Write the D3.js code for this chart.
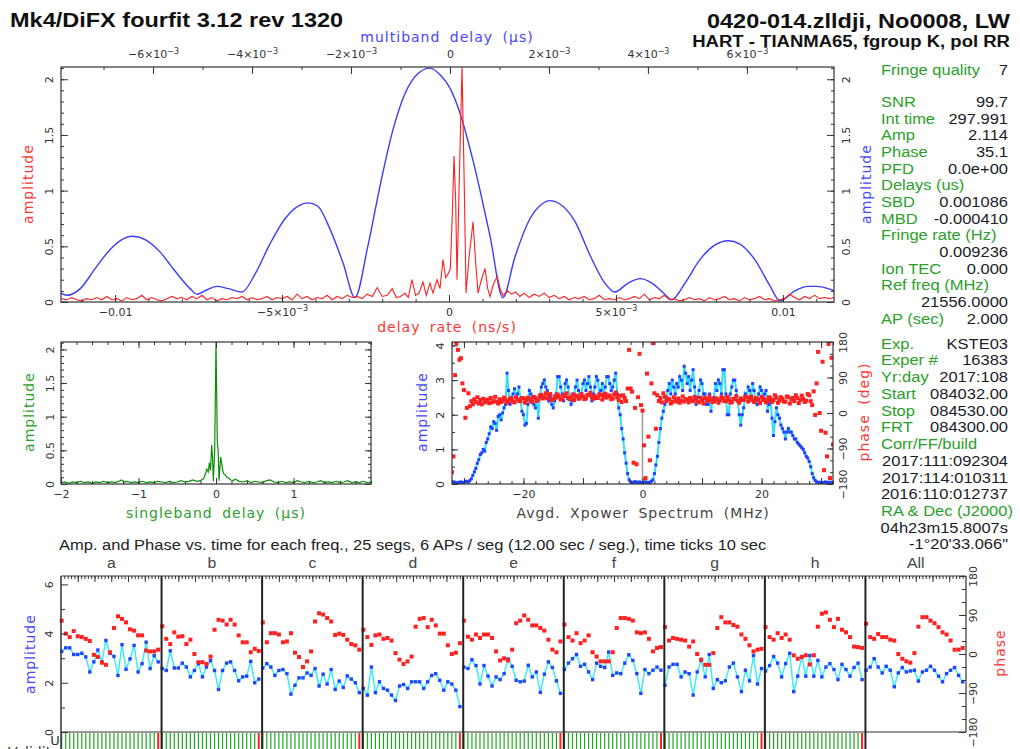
<!DOCTYPE html>
<html>
<head>
<meta charset="utf-8">
<title>fourfit fringe plot</title>
<script src="https://cdn.jsdelivr.net/npm/d3@7"></script>
<style>
  body { margin: 0; background: #fff; }
  svg { display: block; }
</style>
</head>
<body>
<svg id="fringe"></svg>
<script>
// ---------------- data ----------------

// multiband delay function: [delay (x1e-3 us), amplitude]
const mbdCurve = [
  [-7.86,0.08],[-7.74,0.06],[-7.47,0.12],[-7.17,0.30],[-6.87,0.47],[-6.63,0.56],[-6.42,0.59],
  [-6.16,0.56],[-5.86,0.45],[-5.56,0.28],[-5.25,0.12],[-5.11,0.07],[-4.91,0.11],[-4.71,0.14],
  [-4.48,0.12],[-4.20,0.09],[-3.94,0.25],[-3.64,0.52],[-3.33,0.75],[-3.03,0.87],[-2.87,0.89],
  [-2.67,0.86],[-2.42,0.65],[-2.16,0.35],[-1.92,0.04],[-1.66,0.50],[-1.41,1.05],[-1.15,1.55],
  [-0.91,1.87],[-0.65,2.05],[-0.40,2.10],[-0.20,2.04],[0.00,1.92],[0.20,1.70],[0.46,1.28],
  [0.81,0.59],[1.07,0.04],[1.31,0.40],[1.62,0.75],[1.86,0.88],[2.02,0.91],[2.22,0.88],
  [2.53,0.72],[2.83,0.42],[3.13,0.17],[3.33,0.09],[3.60,0.17],[3.84,0.21],[4.08,0.17],
  [4.34,0.07],[4.48,0.02],[4.75,0.17],[5.05,0.38],[5.35,0.51],[5.62,0.55],[5.86,0.52],
  [6.16,0.38],[6.46,0.15],[6.67,0.01],[6.97,0.10],[7.23,0.14],[7.41,0.14],[7.64,0.12],[7.76,0.10]
];

// delay rate function: [rate (x1e-3 ns/s), amplitude]
const rateCurve = [
  [-11.60,0.03],[-11.45,0.02],[-11.30,0.04],[-11.15,0.02],[-11.00,0.01],[-10.85,0.03],[-10.70,0.02],
  [-10.55,0.04],[-10.40,0.02],[-10.25,0.05],[-10.10,0.02],[-9.95,0.03],[-9.80,0.01],[-9.65,0.04],
  [-9.50,0.02],[-9.35,0.03],[-9.20,0.06],[-9.05,0.02],[-8.90,0.04],[-8.75,0.02],[-8.60,0.01],
  [-8.45,0.03],[-8.30,0.05],[-8.15,0.03],[-8.00,0.04],[-7.85,0.02],[-7.70,0.05],[-7.55,0.03],
  [-7.40,0.06],[-7.25,0.02],[-7.10,0.04],[-6.95,0.01],[-6.80,0.03],[-6.65,0.02],[-6.50,0.04],
  [-6.35,0.03],[-6.20,0.05],[-6.05,0.02],[-5.90,0.04],[-5.75,0.02],[-5.60,0.03],[-5.45,0.05],
  [-5.30,0.02],[-5.15,0.04],[-5.00,0.03],[-4.85,0.05],[-4.70,0.02],[-4.55,0.07],[-4.40,0.03],
  [-4.25,0.05],[-4.10,0.02],[-3.95,0.04],[-3.80,0.03],[-3.65,0.06],[-3.50,0.02],[-3.35,0.05],
  [-3.20,0.03],[-3.05,0.06],[-2.90,0.04],[-2.75,0.05],[-2.60,0.03],[-2.45,0.07],[-2.30,0.05],
  [-2.15,0.13],[-2.00,0.05],[-1.85,0.06],[-1.70,0.12],[-1.58,0.04],[-1.45,0.05],[-1.32,0.08],
  [-1.22,0.04],[-1.11,0.20],[-1.00,0.06],[-0.90,0.08],[-0.78,0.18],[-0.68,0.06],[-0.57,0.17],
  [-0.48,0.08],[-0.36,0.20],[-0.27,0.12],[-0.18,0.38],[-0.10,0.22],[-0.03,0.25],[0.04,0.30],
  [0.10,0.80],[0.15,1.31],[0.20,0.90],[0.24,0.20],[0.30,1.00],[0.39,2.11],[0.46,1.00],
  [0.51,0.08],[0.60,0.40],[0.72,0.72],[0.80,0.35],[0.87,0.08],[0.97,0.20],[1.08,0.30],
  [1.16,0.12],[1.23,0.05],[1.32,0.15],[1.44,0.23],[1.55,0.10],[1.62,0.06],[1.75,0.10],
  [1.87,0.07],[2.00,0.09],[2.12,0.05],[2.25,0.08],[2.40,0.04],[2.55,0.07],[2.70,0.05],
  [2.85,0.08],[3.00,0.04],[3.15,0.06],[3.30,0.03],[3.45,0.05],[3.60,0.02],[3.75,0.04],
  [3.90,0.03],[4.05,0.05],[4.20,0.02],[4.35,0.03],[4.50,0.06],[4.65,0.02],[4.80,0.03],
  [4.95,0.02],[5.10,0.04],[5.25,0.02],[5.40,0.03],[5.55,0.05],[5.70,0.03],[5.85,0.07],
  [6.00,0.02],[6.15,0.04],[6.30,0.03],[6.45,0.06],[6.60,0.02],[6.75,0.03],[6.90,0.01],
  [7.05,0.02],[7.20,0.04],[7.35,0.02],[7.50,0.03],[7.65,0.01],[7.80,0.04],[7.95,0.02],
  [8.10,0.03],[8.25,0.05],[8.40,0.02],[8.55,0.03],[8.70,0.01],[8.85,0.04],[9.00,0.02],
  [9.15,0.03],[9.30,0.05],[9.45,0.02],[9.60,0.03],[9.75,0.01],[9.90,0.02],[10.05,0.03],
  [10.20,0.07],[10.35,0.04],[10.50,0.02],[10.65,0.05],[10.80,0.03],[10.95,0.06],[11.10,0.03],
  [11.25,0.04],[11.40,0.03],[11.53,0.04]
];

// singleband delay function: [delay (us), amplitude]
const sbdCurve = [
  [-2.00,0.02],[-1.95,0.03],[-1.90,0.01],[-1.85,0.03],[-1.80,0.02],[-1.75,0.04],[-1.70,0.02],
  [-1.65,0.03],[-1.60,0.01],[-1.55,0.03],[-1.50,0.02],[-1.45,0.04],[-1.40,0.02],[-1.35,0.03],
  [-1.30,0.02],[-1.25,0.04],[-1.22,0.06],[-1.18,0.03],[-1.15,0.04],[-1.10,0.02],[-1.05,0.03],
  [-1.00,0.02],[-0.95,0.04],[-0.90,0.02],[-0.85,0.03],[-0.80,0.02],[-0.75,0.04],[-0.70,0.03],
  [-0.65,0.02],[-0.60,0.04],[-0.55,0.02],[-0.50,0.03],[-0.45,0.05],[-0.40,0.03],[-0.35,0.04],
  [-0.30,0.06],[-0.25,0.04],[-0.20,0.05],[-0.16,0.08],[-0.13,0.17],[-0.12,0.22],[-0.10,0.18],
  [-0.085,0.32],[-0.07,0.20],[-0.056,0.58],[-0.045,0.40],[-0.034,0.04],[-0.017,0.50],[0.00,2.11],
  [0.017,0.62],[0.028,0.50],[0.039,0.05],[0.06,0.40],[0.075,0.30],[0.086,0.20],[0.10,0.15],
  [0.116,0.14],[0.14,0.10],[0.16,0.09],[0.19,0.06],[0.22,0.05],[0.25,0.07],[0.30,0.04],
  [0.35,0.03],[0.40,0.05],[0.45,0.02],[0.50,0.04],[0.55,0.03],[0.60,0.02],[0.65,0.05],
  [0.70,0.06],[0.75,0.03],[0.80,0.02],[0.85,0.04],[0.90,0.02],[0.95,0.03],[1.00,0.02],
  [1.05,0.05],[1.10,0.03],[1.15,0.02],[1.20,0.04],[1.25,0.02],[1.30,0.03],[1.35,0.05],
  [1.40,0.02],[1.45,0.03],[1.50,0.02],[1.55,0.04],[1.60,0.02],[1.65,0.03],[1.70,0.05],
  [1.75,0.02],[1.80,0.03],[1.85,0.02],[1.90,0.04],[1.95,0.02],[2.00,0.03]
];

// averaged cross-power spectrum: one channel every 0.25 MHz from -32 to +32 MHz (8 per row = 2 MHz)
const specStart = -32, specStep = 0.25;
const specAmp = [
  0.04,0.06,0.05,0.03,0.03,0.05,0.06,0.04,
  0.04,0.08,0.07,0.05,0.10,0.15,0.25,0.35,
  0.45,0.60,0.70,0.85,0.90,1.00,0.95,1.20,
  1.30,1.45,1.65,1.60,1.80,1.75,1.55,1.95,
  2.00,1.85,2.05,2.20,2.30,3.20,2.70,2.30,
  2.50,2.60,2.75,2.50,2.60,2.80,2.40,2.10,
  2.00,1.70,1.75,2.30,2.70,2.60,2.50,2.30,
  2.20,2.40,1.90,2.50,2.80,2.90,3.00,2.80,
  2.70,2.40,2.50,2.30,2.20,2.40,2.60,3.10,
  3.10,2.80,2.60,2.40,2.90,3.00,2.80,2.50,
  2.30,2.40,2.60,2.80,3.00,2.70,2.50,2.60,
  2.90,3.00,2.70,2.90,3.10,2.80,2.40,2.60,
  2.80,3.10,3.00,2.60,2.70,2.90,2.60,2.80,
  3.10,3.10,2.90,2.70,2.80,3.00,3.20,2.60,
  2.20,2.00,1.60,1.30,0.90,0.60,0.30,0.12,
  0.06,0.05,0.04,0.07,0.05,0.03,0.06,0.04,
  0.04,0.05,0.06,0.03,0.05,0.04,0.08,0.12,
  0.30,0.55,0.80,1.20,1.60,1.90,2.10,2.30,
  2.50,2.70,2.90,2.60,3.00,2.80,2.60,2.90,
  2.80,3.10,3.00,2.70,3.40,3.20,2.90,3.10,
  2.70,3.00,3.30,2.80,2.30,2.50,2.70,3.00,
  2.90,2.60,2.60,2.30,2.30,2.60,2.10,2.40,
  2.50,2.90,2.70,3.00,2.90,2.60,3.30,3.30,
  2.60,2.00,2.00,2.60,2.80,3.00,3.00,2.70,
  2.40,2.00,1.70,2.00,2.20,2.60,2.50,2.80,
  2.70,2.50,2.90,2.70,2.40,2.30,2.60,2.80,
  2.70,2.50,2.60,2.70,2.10,2.30,2.40,1.90,
  1.40,1.80,2.20,2.00,1.90,1.70,1.60,1.50,
  1.30,1.50,1.60,1.50,1.50,1.40,1.30,1.30,
  1.20,1.15,1.10,1.05,1.00,0.90,0.80,0.75,
  0.65,0.50,0.30,0.18,0.10,0.06,0.05,0.04,
  0.05,0.03,0.04,0.06,0.03,0.05,0.04,0.05,
  0.05
];
const specPhase = [
  -150,-110,96,177,160,135,139,75,
  58,-12,13,50,17,30,22,35,
  28,40,24,33,22,36,27,31,
  34,25,38,27,30,41,29,24,
  35,28,31,39,34,26,30,37,
  36,29,27,40,35,31,30,38,
  37,26,33,39,36,30,28,41,
  38,31,34,44,46,37,40,50,
  37,45,48,33,35,42,39,47,
  41,34,36,45,43,50,38,35,
  40,47,33,42,44,36,39,48,
  42,35,37,46,45,51,40,36,
  43,38,38,47,46,34,41,49,
  39,44,44,35,37,47,52,40,
  33,44,28,45,38,30,62,160,
  62,54,-126,13,-130,40,150,20,
  6,-82,-165,100,-60,-120,75,177,
  50,-40,45,30,38,27,50,41,
  30,36,35,24,28,40,33,29,
  37,26,31,42,29,35,34,27,
  38,32,30,41,36,28,27,39,
  33,24,38,34,31,42,35,28,
  29,37,36,26,32,40,38,30,
  30,41,34,27,27,36,35,43,
  31,26,37,33,33,41,40,29,
  36,42,32,28,38,35,34,25,
  41,33,35,27,30,40,37,28,
  33,45,39,26,31,40,36,29,
  29,42,40,24,34,38,30,45,
  38,25,33,44,36,28,31,48,
  45,30,20,55,-5,75,155,0,
  -45,130,-145,-50,-110,175,-165,140,
  -80
];

// per-channel amplitude and phase for the 25 segments
const channels = ["a", "b", "c", "d", "e", "f", "g", "h", "All"];
const segAmp = [
  [3.27,3.42,3.42,3.15,3.15,3.20,3.05,2.44,2.85,3.33,2.85,3.72,3.20,3.07,2.30,3.55,2.55,2.97,3.52,2.44,2.78,3.65,2.58,3.10,2.85],
  [2.58,2.50,3.30,2.60,2.60,2.80,2.64,2.24,2.50,2.78,2.24,2.64,2.90,2.50,1.73,2.50,2.80,2.85,2.50,2.08,2.24,2.27,2.87,2.00,2.15],
  [2.60,2.78,2.64,2.30,2.50,2.54,2.37,1.54,1.90,2.20,2.20,2.40,2.30,2.58,1.87,2.35,1.95,2.54,1.73,2.07,1.81,2.28,2.15,2.00,1.60],
  [1.77,1.50,2.64,1.60,2.04,1.77,1.70,1.50,1.28,1.87,1.93,1.77,2.04,2.04,2.04,1.77,2.04,2.30,2.37,2.10,1.70,2.04,1.95,1.70,1.03],
  [2.64,2.58,2.94,2.70,1.95,2.70,2.27,1.87,2.24,2.13,2.37,2.97,2.67,2.10,2.04,2.07,2.71,2.24,2.44,1.61,2.35,2.85,2.62,2.08,1.57],
  [2.54,2.80,2.98,3.15,2.67,2.75,2.44,2.13,2.80,2.67,2.62,3.25,2.30,2.40,2.37,2.80,3.14,2.91,2.37,1.57,2.54,2.37,2.51,2.64,2.51],
  [1.90,2.64,2.75,2.75,2.24,2.44,2.37,1.50,2.44,2.91,2.24,3.15,1.77,2.13,2.00,2.08,2.64,2.80,2.24,1.64,2.51,2.08,3.11,1.95,2.58],
  [2.48,2.70,3.07,2.80,2.24,2.78,3.20,1.64,2.27,3.07,2.27,3.11,2.27,2.91,2.24,2.64,2.78,2.54,2.13,2.75,2.54,2.27,2.62,2.80,2.13],
  [2.51,2.64,2.98,2.64,2.40,2.67,2.51,1.84,2.40,2.62,2.44,2.48,2.51,2.07,2.44,2.51,2.67,2.51,2.27,2.04,2.37,2.51,2.62,2.30,2.04]
];
const segPhase = [
  [77,47,39,53,41,39,35,30,-2,-7,-20,-25,4,60,87,81,73,57,54,43,43,8,6,6,10],
  [64,35,23,50,40,41,23,33,0,-19,-19,-23,-6,56,79,77,68,79,68,43,27,27,4,12,7],
  [73,27,48,48,45,27,29,48,3,-7,-30,-17,6,75,94,91,83,75,44,47,44,33,23,20,10],
  [56,39,21,43,45,35,37,31,2,-13,-23,-17,-6,63,81,83,62,79,66,47,47,20,0,3,25],
  [77,40,33,45,37,45,45,37,6,-15,-10,-15,10,71,77,89,79,66,66,60,54,33,10,4,29],
  [68,39,31,48,25,31,43,4,-6,-17,-17,-17,4,60,83,83,81,77,50,48,50,35,6,14,16],
  [62,31,37,35,33,31,17,29,0,-13,-25,-25,2,60,85,73,73,67,63,45,35,20,6,10,12],
  [62,39,33,48,37,45,33,-3,-11,-7,-3,-24,-3,63,93,96,79,62,81,56,50,39,17,16,14],
  [70,39,35,46,39,39,33,31,0,-11,-17,-20,2,63,85,85,77,71,62,50,45,31,10,10,14]
];
const segValid = [1,1,1,1,1,1,1,1,1,1,1,1,1,1,1,1,1,1,1,1,1,1,1,1,0];
const segSeconds = 12;

// tick values
const rateTicks = [-10, -5, 0, 5, 10];      // x1e-3 ns/s
const mbdTicks = [-6, -4, -2, 0, 2, 4, 6];  // x1e-3 us
const ampTicks = [0, 0.5, 1, 1.5, 2];
const sbdTicks = [-2, -1, 0, 1];
const freqTicks = [-20, 0, 20];
const specAmpTicks = [0, 1, 2, 3, 4];
const phaseTicks = [-180, -90, 0, 90, 180];
const segAmpTicks = [0, 2, 4, 6];

// text blocks
const titleLeft = "Mk4/DiFX fourfit 3.12 rev 1320";
const titleRight = "0420-014.zlldji, No0008, LW";
const subTitle = "HART - TIANMA65, fgroup K, pol RR";
const segTitle = "Amp. and Phase vs. time for each freq., 25 segs, 6 APs / seg (12.00 sec / seg.), time ticks 10 sec";
const qualityRow = ["Fringe quality", "7"];
const fitRows = [
  ["SNR", "99.7"], ["Int time", "297.991"], ["Amp", "2.114"], ["Phase", "35.1"],
  ["PFD", "0.0e+00"], ["Delays (us)", ""], ["SBD", "0.001086"], ["MBD", "-0.000410"],
  ["Fringe rate (Hz)", ""], ["", "0.009236"], ["Ion TEC", "0.000"], ["Ref freq (MHz)", ""],
  ["", "21556.0000"], ["AP (sec)", "2.000"]
];
const expRows = [
  ["Exp.", "KSTE03"], ["Exper #", "16383"], ["Yr:day", "2017:108"], ["Start", "084032.00"],
  ["Stop", "084530.00"], ["FRT", "084300.00"], ["Corr/FF/build", ""], ["", "2017:111:092304"],
  ["", "2017:114:010311"], ["", "2016:110:012737"], ["RA & Dec (J2000)", ""],
  ["", "04h23m15.8007s"], ["", "-1\u00b020'33.066\""]
];

// ---------------- drawing ----------------
const AXF = "'DejaVu Sans', Verdana, sans-serif";
const TXF = "'Liberation Sans', Arial, sans-serif";
const BLUE = "#3c3cff", RED = "#ff2020", GREEN = "#0b8f0b";
const TBLUE = "#4646ff", TRED = "#ff3434", TGREEN = "#2aa02a";
const FRAME = "#333", TICKTXT = "#333";

const svg = d3.select("#fringe").attr("width", 1020).attr("height", 749);
svg.append("rect").attr("width", 1020).attr("height", 749).attr("fill", "#fff");
const defs = svg.append("defs");

const mainBox = {l: 61, r: 834, t: 67, b: 302};
const sbBox = {l: 61, r: 371, t: 342, b: 484};
const xpBox = {l: 452, r: 833, t: 342, b: 484};
const segBox = {l: 61, r: 966, t: 576, b: 732};

function clipFor(id, b) {
  defs.append("clipPath").attr("id", id).append("rect")
    .attr("x", b.l).attr("y", b.t).attr("width", b.r - b.l).attr("height", b.b - b.t);
  return "url(#" + id + ")";
}

function frame(b) {
  svg.append("rect").attr("x", b.l).attr("y", b.t)
    .attr("width", b.r - b.l).attr("height", b.b - b.t)
    .attr("fill", "none").attr("stroke", FRAME).attr("stroke-width", 1.2);
}

// inward ticks; labels only when fmt given
function ticks(x, y, axis, vals, len, fmt, pad) {
  const g = svg.append("g").attr("transform", "translate(" + x + "," + y + ")")
    .call(axis.tickValues(vals).tickSize(-len).tickPadding(pad || 4).tickFormat(fmt || (() => "")));
  g.select(".domain").remove();
  g.selectAll(".tick line").attr("stroke", FRAME).attr("stroke-width", 1);
  g.selectAll(".tick text").attr("font-family", AXF).attr("font-size", 11).attr("fill", TICKTXT);
  return g;
}

function rotLabels(g, off) {
  g.selectAll(".tick text").attr("x", null).attr("dy", null).attr("text-anchor", "middle")
    .attr("transform", "translate(" + off + ",0) rotate(-90)");
}

// labels like -5x10^-3 (values are in units of 1e-3)
function sciLabels(g) {
  g.selectAll(".tick text").each(function(v) {
    const t = d3.select(this).text(null);
    const sign = v < 0 ? "\u2212" : "";
    if (v === 0) { t.text("0"); return; }
    if (Math.abs(v) === 10) { t.text(sign + "0.01"); return; }
    t.append("tspan").text(sign + Math.abs(v) + "\u00d710");
    t.append("tspan").attr("dy", "-0.55em").attr("font-size", 8).text("\u22123");
  });
}

function axisTitle(x, y, str, color, rotate) {
  svg.append("text")
    .attr("transform", "translate(" + x + "," + y + ")" + (rotate ? " rotate(-90)" : ""))
    .attr("text-anchor", "middle").attr("dominant-baseline", "central")
    .attr("font-family", AXF).attr("font-size", 14)
    .attr("letter-spacing", 1).attr("word-spacing", 4)
    .attr("fill", color).text(str);
}

function label(x, y, str, o) {
  return svg.append("text")
    .attr("transform", "translate(" + x + "," + y + ") scale(" + (o.sx || 1) + ",1)")
    .attr("text-anchor", o.anchor || "start")
    .attr("font-family", o.family || TXF).attr("font-size", o.size || 15)
    .attr("font-weight", o.weight || "normal")
    .attr("fill", o.color || "#111").text(str);
}

// ---- titles
label(10, 27, titleLeft, {size: 21, weight: "bold", sx: 1.12});
label(1010, 28, titleRight, {size: 21, weight: "bold", sx: 1.12, anchor: "end"});
label(1010, 47, subTitle, {size: 17, weight: "bold", sx: 1.09, anchor: "end"});

// ---- main plot: multiband delay (top) and delay rate (bottom)
const xRate = d3.scaleLinear().domain([-11.62, 11.53]).range([mainBox.l, mainBox.r]);
const xMbd = d3.scaleLinear().domain([-7.86, 7.76]).range([mainBox.l, mainBox.r]);
const yMain = d3.scaleLinear().domain([0, 2.11]).range([mainBox.b, mainBox.t]);
const mainClip = clipFor("clipMain", mainBox);

svg.append("path").datum(mbdCurve).attr("clip-path", mainClip)
  .attr("fill", "none").attr("stroke", BLUE).attr("stroke-width", 1.4)
  .attr("d", d3.line().x(d => xMbd(d[0])).y(d => yMain(d[1])).curve(d3.curveMonotoneX));
svg.append("path").datum(rateCurve).attr("clip-path", mainClip)
  .attr("fill", "none").attr("stroke", RED).attr("stroke-width", 1.1)
  .attr("d", d3.line().x(d => xRate(d[0])).y(d => yMain(d[1])));
frame(mainBox);

ticks(0, mainBox.b, d3.axisBottom(xRate), d3.range(-11, 12), 3);
sciLabels(ticks(0, mainBox.b, d3.axisBottom(xRate), rateTicks, 7, d => d, 6));
ticks(0, mainBox.t, d3.axisTop(xMbd), d3.range(-7, 8), 3);
sciLabels(ticks(0, mainBox.t, d3.axisTop(xMbd), mbdTicks, 7, d => d, 9));
ticks(mainBox.l, 0, d3.axisLeft(yMain), d3.range(0, 2.11, 0.1), 3);
rotLabels(ticks(mainBox.l, 0, d3.axisLeft(yMain), ampTicks, 7, d3.format("")), -8);
ticks(mainBox.r, 0, d3.axisRight(yMain), d3.range(0, 2.11, 0.1), 3);
rotLabels(ticks(mainBox.r, 0, d3.axisRight(yMain), ampTicks, 7, d3.format("")), 16);

axisTitle(447, 37, "multiband delay (\u03bcs)", TBLUE);
axisTitle(447, 327, "delay rate (ns/s)", TRED);
axisTitle(28, 184, "amplitude", TRED, true);
axisTitle(866, 184, "amplitude", TBLUE, true);

// ---- singleband delay
const xSbd = d3.scaleLinear().domain([-2, 2]).range([sbBox.l, sbBox.r]);
const ySb = d3.scaleLinear().domain([0, 2.11]).range([sbBox.b, sbBox.t]);
svg.append("path").datum(sbdCurve).attr("clip-path", clipFor("clipSb", sbBox))
  .attr("fill", "none").attr("stroke", GREEN).attr("stroke-width", 1.2)
  .attr("d", d3.line().x(d => xSbd(d[0])).y(d => ySb(d[1])));
frame(sbBox);
ticks(0, sbBox.b, d3.axisBottom(xSbd), d3.range(-2, 2.01, 0.2), 3);
ticks(0, sbBox.b, d3.axisBottom(xSbd), sbdTicks, 6, d3.format(""), 6);
ticks(0, sbBox.t, d3.axisTop(xSbd), d3.range(-2, 2.01, 0.2), 3);
ticks(0, sbBox.t, d3.axisTop(xSbd), sbdTicks, 6);
ticks(sbBox.l, 0, d3.axisLeft(ySb), d3.range(0, 2.11, 0.1), 3);
rotLabels(ticks(sbBox.l, 0, d3.axisLeft(ySb), ampTicks, 6, d3.format("")), -7);
ticks(sbBox.r, 0, d3.axisRight(ySb), d3.range(0, 2.11, 0.1), 3);
ticks(sbBox.r, 0, d3.axisRight(ySb), ampTicks, 6);
axisTitle(216, 513, "singleband delay (\u03bcs)", TGREEN);
axisTitle(29, 412, "amplitude", TGREEN, true);

// ---- averaged cross-power spectrum
const spec = specAmp.map((a, i) => ({f: specStart + i * specStep, amp: a, ph: specPhase[i]}));
const xFreq = d3.scaleLinear().domain([-32, 32]).range([xpBox.l, xpBox.r]);
const yXAmp = d3.scaleLinear().domain([0, 4.1]).range([xpBox.b, xpBox.t]);
const yXPh = d3.scaleLinear().domain([-180, 180]).range([xpBox.b, xpBox.t]);
const xp = svg.append("g").attr("clip-path", clipFor("clipXp", xpBox));
const dc = spec.find(d => d.f === 0);
xp.append("line").attr("x1", xFreq(dc.f)).attr("x2", xFreq(dc.f))
  .attr("y1", yXAmp(0)).attr("y2", yXPh(dc.ph)).attr("stroke", "#999").attr("stroke-width", 1.5);
xp.append("path").datum(spec).attr("fill", "none").attr("stroke", "#35dcf5").attr("stroke-width", 2)
  .attr("d", d3.line().x(d => xFreq(d.f)).y(d => yXAmp(d.amp)));
xp.selectAll("rect.amp").data(spec).join("rect").attr("class", "amp")
  .attr("x", d => xFreq(d.f) - 1.5).attr("y", d => yXAmp(d.amp) - 1.5)
  .attr("width", 3).attr("height", 3).attr("fill", "#1e40ff");
xp.selectAll("rect.ph").data(spec).join("rect").attr("class", "ph")
  .attr("x", d => xFreq(d.f) - 2).attr("y", d => yXPh(d.ph) - 2)
  .attr("width", 4).attr("height", 4).attr("fill", RED);
frame(xpBox);
ticks(0, xpBox.b, d3.axisBottom(xFreq), d3.range(-32, 33, 2), 3);
ticks(0, xpBox.b, d3.axisBottom(xFreq), [-30, -10, 10, 30], 6);
ticks(0, xpBox.b, d3.axisBottom(xFreq), freqTicks, 6, d3.format(""), 6);
ticks(0, xpBox.t, d3.axisTop(xFreq), d3.range(-32, 33, 2), 3);
ticks(0, xpBox.t, d3.axisTop(xFreq), d3.range(-30, 31, 10), 6);
ticks(xpBox.l, 0, d3.axisLeft(yXAmp), d3.range(0, 4.1, 0.5), 3);
rotLabels(ticks(xpBox.l, 0, d3.axisLeft(yXAmp), specAmpTicks, 6, d3.format("")), -8);
ticks(xpBox.r, 0, d3.axisRight(yXPh), d3.range(-180, 181, 30), 3);
rotLabels(ticks(xpBox.r, 0, d3.axisRight(yXPh), phaseTicks, 6, d3.format("")), 14);
axisTitle(643, 513, "Avgd. Xpower Spectrum (MHz)", "#444");
axisTitle(422, 412, "amplitude", TBLUE, true);
axisTitle(864, 412, "phase (deg)", TRED, true);

// ---- info panel
label(881, 75.4, qualityRow[0], {color: TGREEN, sx: 1.1});
label(1008, 75.4, qualityRow[1], {color: "#1c1c28", sx: 1.1, anchor: "end"});
fitRows.forEach((r, i) => {
  const y = 107.1 + i * 16.66;
  if (r[0]) label(881, y, r[0], {color: TGREEN, sx: 1.1});
  if (r[1]) label(1008, y, r[1], {color: "#1c1c28", sx: 1.1, anchor: "end"});
});
expRows.forEach((r, i) => {
  const y = 348.7 + i * 16.73;
  if (r[0]) label(881, y, r[0], {color: TGREEN, sx: 1.1});
  if (r[1]) label(1008, y, r[1], {color: "#1c1c28", sx: 1.1, anchor: "end"});
});

// ---- amplitude / phase vs time per channel
label(59, 550, segTitle, {size: 15, sx: 1.1, color: "#222"});
const yS = d3.scaleLinear().domain([0, 6.34]).range([segBox.b, segBox.t]);
const ySPh = d3.scaleLinear().domain([-180, 180]).range([segBox.b, segBox.t]);
const pw = (segBox.r - segBox.l) / channels.length;
const nSeg = segValid.length;

channels.forEach((ch, p) => {
  const x0 = segBox.l + p * pw;
  const xT = d3.scaleLinear().domain([0, nSeg * segSeconds]).range([x0, x0 + pw]);
  const pts = segAmp[p].map((a, i) => ({t: i * segSeconds + 2, amp: a, ph: segPhase[p][i], ok: segValid[i]}));

  label(x0 + pw / 2, 568, ch, {size: 15, color: "#444", anchor: "middle", sx: 1.05});

  svg.append("path").datum(pts).attr("fill", "none").attr("stroke", "#40eaf8").attr("stroke-width", 1.5)
    .attr("d", d3.line().x(d => xT(d.t)).y(d => yS(d.amp)));
  svg.selectAll(null).data(pts).join("rect")
    .attr("x", d => xT(d.t) - 1.7).attr("y", d => yS(d.amp) - 1.7)
    .attr("width", 3.4).attr("height", 3.4).attr("fill", "#1e46ff");
  svg.selectAll(null).data(pts).join("rect")
    .attr("x", d => xT(d.t) - 2).attr("y", d => ySPh(d.ph) - 2)
    .attr("width", 4).attr("height", 4).attr("fill", RED);

  if (ch !== "All") {
    svg.selectAll(null).data(pts).join("line")
      .attr("x1", d => xT(d.t)).attr("x2", d => xT(d.t))
      .attr("y1", segBox.b + 1).attr("y2", 760)
      .attr("stroke", d => d.ok ? "#1fa81f" : RED).attr("stroke-width", d => d.ok ? 1.2 : 2);
  }

  ticks(0, segBox.t, d3.axisTop(xT), d3.range(10, 300, 10), 3);
  ticks(0, segBox.t, d3.axisTop(xT), d3.range(50, 300, 50), 6);

  if (p > 0) {
    svg.append("line").attr("x1", x0).attr("x2", x0).attr("y1", segBox.t).attr("y2", 749)
      .attr("stroke", "#222").attr("stroke-width", 2);
  }
});

svg.append("line").attr("x1", segBox.l).attr("x2", segBox.r).attr("y1", segBox.t).attr("y2", segBox.t)
  .attr("stroke", FRAME).attr("stroke-width", 1.2);
svg.append("line").attr("x1", segBox.l).attr("x2", segBox.r).attr("y1", segBox.b).attr("y2", segBox.b)
  .attr("stroke", FRAME).attr("stroke-width", 1.2);
svg.append("line").attr("x1", segBox.l).attr("x2", segBox.l).attr("y1", segBox.t).attr("y2", 749)
  .attr("stroke", FRAME).attr("stroke-width", 1.5);
svg.append("line").attr("x1", segBox.r).attr("x2", segBox.r).attr("y1", segBox.t).attr("y2", segBox.b)
  .attr("stroke", FRAME).attr("stroke-width", 1.2);

ticks(segBox.l, 0, d3.axisLeft(yS), [1, 3, 5], 4);
rotLabels(ticks(segBox.l, 0, d3.axisLeft(yS), segAmpTicks, 7, d3.format("")), -8);
ticks(segBox.r, 0, d3.axisRight(ySPh), d3.range(-150, 180, 30), 4);
rotLabels(ticks(segBox.r, 0, d3.axisRight(ySPh), phaseTicks, 7, d3.format("")), 11);
axisTitle(30, 654, "amplitude", TBLUE, true);
axisTitle(1000, 653, "phase", TRED, true);

svg.append("text").attr("x", 55).attr("y", 745).attr("text-anchor", "middle")
  .attr("font-family", AXF).attr("font-size", 13).attr("fill", "#333").text("U");
svg.append("text").attr("x", 8).attr("y", 757)
  .attr("font-family", AXF).attr("font-size", 14).attr("fill", "#333").text("Validity");
</script>
</body>
</html>
